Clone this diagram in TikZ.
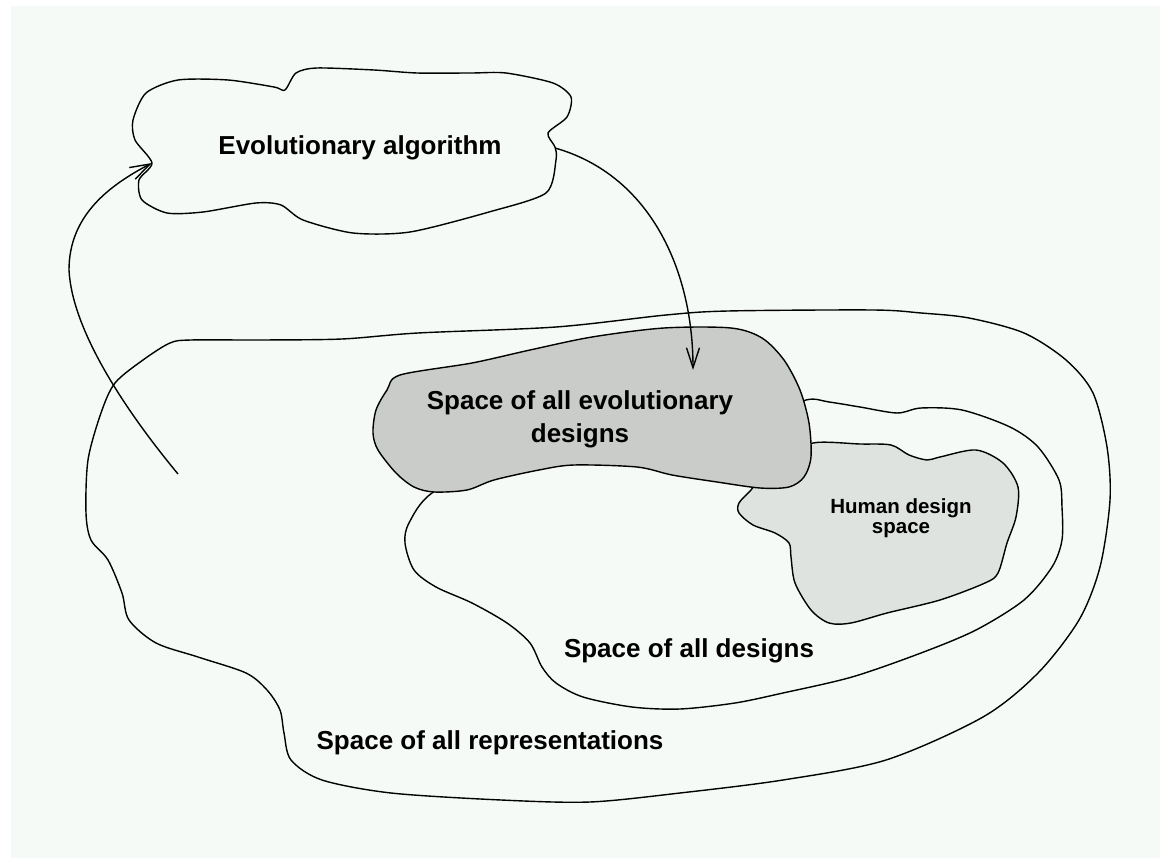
\documentclass[tikz,border=0pt]{standalone}
\usepackage{fontspec}
\setmainfont{Liberation Sans}
\usetikzlibrary{arrows.meta}
\definecolor{paper}{HTML}{F6FAF7}
\definecolor{evogray}{HTML}{C9CCC9}
\definecolor{humangray}{HTML}{DFE3E0}
\begin{document}
\begin{tikzpicture}[x=1pt,y=-1pt,
region/.style={draw, line width=1.4pt, line join=round},
spacetext/.style={font=\bfseries\fontsize{26}{33}\selectfont, align=center, inner sep=0pt},
arrow/.style={-{Straight Barb[length=20pt,width=13pt]}, line width=1.4pt}
]
\useasboundingbox (0,0) rectangle (1160,858);
\fill[paper] (11,6) rectangle (1160,858);
% outer region
\draw[region] plot[smooth cycle, tension=0.5] coordinates {(170,343) (191,340) (260,340) (342,339) (418,333) (556,327) (666,315) (728,311) (873,310) (921,313) (969,318) (1024,333) (1066,360) (1093,393) (1107,447) (1110,500) (1100,567) (1079,620) (1038,673) (983,717) (886,760) (783,780) (680,793) (590,802) (501,800) (391,793) (322,780) (291,760) (284,733) (280,710) (267,690) (246,673) (198,657) (156,643) (129,620) (122,593) (108,560) (91,540) (86,513) (88,460) (101,413) (115,383) (143,360)};
% all designs
\draw[region] plot[smooth cycle, tension=0.5] coordinates {(432,493) (409,523) (405,543) (414,570) (436,587) (472,603) (507,623) (530,643) (542,667) (556,683) (583,697) (632,707) (680,709) (735,703) (783,693) (852,677) (921,653) (976,630) (1024,600) (1052,567) (1062,540) (1062,507) (1059,480) (1038,447) (1010,427) (962,410) (921,408) (897,413) (860,407) (829,402) (806,400) (760,420) (650,440) (500,460)};
% human designs
\draw[region, fill=humangray] plot[smooth cycle, tension=0.5] coordinates {(813,443) (860,444) (891,445) (909,455) (927,460) (940,457) (976,450) (1003,463) (1018,487) (1016,517) (1007,543) (998,573) (985,583) (940,600) (887,613) (851,623) (829,623) (811,610) (795,583) (791,557) (789,543) (775,533) (753,525) (739,513) (739,503) (751,490) (760,480) (790,460)};
% evolutionary designs
\draw[region, fill=evogray] plot[smooth cycle, tension=0.5] coordinates {(400,375) (472,363) (530,350) (592,337) (664,328) (731,328) (762,338) (784,360) (800,390) (809,423) (811,457) (804,477) (789,487) (760,488) (717,482) (672,475) (637,467) (574,465) (539,470) (494,480) (467,490) (434,492) (414,487) (396,473) (378,450) (373,433) (376,410) (387,390)};
% cloud
\draw[region] plot[smooth cycle, tension=0.45] coordinates {(178,80) (146,93) (133,120) (135,140) (152,163) (139,180) (142,200) (167,213) (203,212) (256,203) (281,205) (303,220) (353,233) (410,232) (489,212) (546,193) (556,160) (555,147) (548,133) (567,117) (571,97) (553,83) (506,73) (471,73) (417,73) (374,70) (317,68) (296,73) (285,90) (274,87) (228,80)};

\node[spacetext, anchor=base] (evoAlg) at (360,155) {Evolutionary algorithm};
\node[spacetext] (evoSpace) at (580,419) {Space of all evolutionary\\designs};
\node[spacetext, font=\bfseries\fontsize{20.5}{20}\selectfont] (humanSpace) at (901,518) {Human design\\space};
\node[spacetext, anchor=base] (allDesigns) at (689,657) {Space of all designs};
\node[spacetext, anchor=base] (allReps) at (490,749) {Space of all representations};

\coordinate (repOut) at (178,474);
\coordinate (evoIn) at (152,163);
\coordinate (evoOut) at (555,148);
\coordinate (evoHit) at (693,370);
\draw[arrow] (repOut) .. controls (125,410) and (72,330) .. (69,270) .. controls (69,215) and (110,185) .. (evoIn);
\draw[arrow] (evoOut) .. controls (650,175) and (693,270) .. (evoHit);
\end{tikzpicture}
\end{document}
